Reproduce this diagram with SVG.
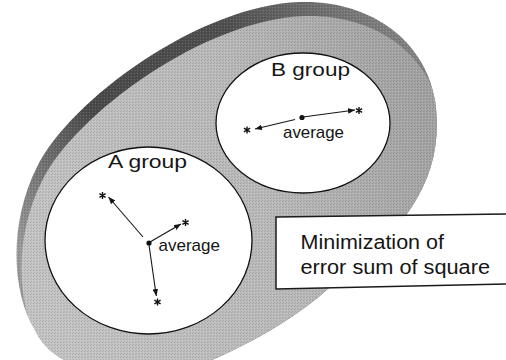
<svg xmlns="http://www.w3.org/2000/svg" xmlns:xlink="http://www.w3.org/1999/xlink" width="506" height="360" viewBox="0 0 506 360">
  <style>
    .lbl { font-family: "Liberation Sans", Arial, Helvetica, sans-serif; fill: #151515; }
    .grp { font-size: 18.5px; }
    .avg { font-size: 17px; }
    .note { font-size: 20px; }
    .circ { fill: #ffffff; stroke: #111111; stroke-width: 1.3; }
    .arr { fill: none; stroke: #151515; stroke-width: 1.1; marker-end: url(#ah); }
    .star { fill: none; stroke: #111111; stroke-width: 1.4; }
  </style>
  <defs>
    <path id="blobShape" d="M300,2 C370,0 425,40 435,100 C445,170 415,225 330,287 C300,315 250,345 200,365 C130,385 55,375 35,330 C10,290 10,220 37,167 C70,100 200,5 300,2 Z"/>
    <clipPath id="blobClip">
      <use xlink:href="#blobShape" href="#blobShape"/>
    </clipPath>
    <linearGradient id="rimGrad" gradientUnits="userSpaceOnUse" x1="30" y1="260" x2="400" y2="0">
      <stop offset="0" stop-color="#9a9a9a"/>
      <stop offset="0.3" stop-color="#4a4a4a"/>
      <stop offset="0.65" stop-color="#505050"/>
      <stop offset="1" stop-color="#8a8a8a"/>
    </linearGradient>
    <linearGradient id="faceGrad" gradientUnits="userSpaceOnUse" x1="40" y1="250" x2="440" y2="120">
      <stop offset="0" stop-color="#c4c4c4"/>
      <stop offset="0.55" stop-color="#bababa"/>
      <stop offset="1" stop-color="#a2a2a2"/>
    </linearGradient>
    <pattern id="grain" width="3" height="3" patternUnits="userSpaceOnUse">
      <rect x="0" y="0" width="1" height="1" fill="#000" fill-opacity="0.14"/>
      <rect x="2" y="1" width="1" height="1" fill="#fff" fill-opacity="0.14"/>
      <rect x="1" y="2" width="1" height="1" fill="#000" fill-opacity="0.1"/>
    </pattern>
    <marker id="ah" viewBox="0 0 10 8" refX="10" refY="4" markerWidth="7" markerHeight="5.6" markerUnits="userSpaceOnUse" orient="auto">
      <path d="M0,0 L10,4 L0,8 Z" fill="#151515"/>
    </marker>
    <path id="st" class="star" d="M0,-3.5 V3.5 M-3.1,-1.8 L3.1,1.8 M-3.1,1.8 L3.1,-1.8"/>
  </defs>

  <g id="cluster-space">
    <use xlink:href="#blobShape" href="#blobShape" fill="url(#rimGrad)"/>
    <g clip-path="url(#blobClip)">
      <use xlink:href="#blobShape" href="#blobShape" transform="translate(5,14)" fill="url(#faceGrad)"/>
      <use xlink:href="#blobShape" href="#blobShape" fill="url(#grain)"/>
    </g>
  </g>

  <g id="groupB">
    <ellipse class="circ" cx="303" cy="123" rx="87" ry="70"/>
    <text class="lbl grp" x="271" y="76" textLength="79" lengthAdjust="spacingAndGlyphs">B group</text>
    <circle cx="302" cy="117.5" r="2.6" fill="#111"/>
    <text class="lbl avg" x="283" y="137.5" textLength="61" lengthAdjust="spacingAndGlyphs">average</text>
    <use xlink:href="#st" href="#st" x="359" y="110.5"/>
    <use xlink:href="#st" href="#st" x="247" y="130"/>
  </g>

  <g id="groupA">
    <ellipse class="circ" cx="148.5" cy="240.5" rx="103.5" ry="93.5"/>
    <text class="lbl grp" x="108" y="168" textLength="79" lengthAdjust="spacingAndGlyphs">A group</text>
    <circle cx="149" cy="243" r="2.6" fill="#111"/>
    <text class="lbl avg" x="158.5" y="251" textLength="61.5" lengthAdjust="spacingAndGlyphs">average</text>
    <use xlink:href="#st" href="#st" x="102.5" y="195.5"/>
    <use xlink:href="#st" href="#st" x="185.5" y="222.5"/>
    <use xlink:href="#st" href="#st" x="157.5" y="302"/>
  </g>

  <g id="note">
    <polygon points="276,217 508,214 508,284 276,289" fill="#ffffff" stroke="#1a1a1a" stroke-width="1.5"/>
    <text class="lbl note" x="300.5" y="248.5" textLength="143.5" lengthAdjust="spacingAndGlyphs">Minimization of</text>
    <text class="lbl note" x="300.5" y="273.5" textLength="189.5" lengthAdjust="spacingAndGlyphs">error sum of square</text>
  </g>

  <g id="connectors">
    <line class="arr" x1="303" y1="117" x2="355" y2="110"/>
    <line class="arr" x1="295" y1="119.5" x2="255" y2="129"/>
    <line class="arr" x1="143" y1="237" x2="108.5" y2="197"/>
    <line class="arr" x1="150" y1="242" x2="181" y2="224"/>
    <line class="arr" x1="149" y1="245" x2="156.3" y2="296"/>
  </g>
</svg>
